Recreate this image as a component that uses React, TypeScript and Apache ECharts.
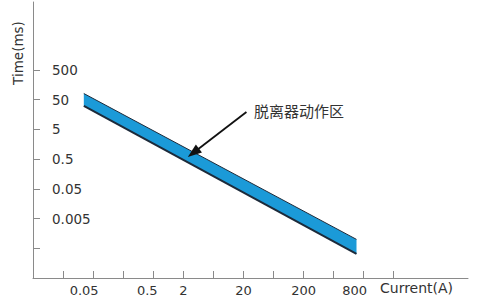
import React, { useEffect, useRef } from "react";
import * as echarts from "echarts";

// Axis positions are in "tick units" (one unit = spacing between ticks)
const xTicks = [1, 2, 3, 4, 5, 6, 7, 8, 9, 10, 11, 12];
const xLabelPos = [1.7, 3.8, 5, 7, 9, 10.7];
const xLabels = ["0.05", "0.5", "2", "20", "200", "800"];

const yTicks = [1, 2, 3, 4, 5, 6, 7];
const yLabelPos = [2, 3, 4, 5, 6, 7];
const yLabels = ["0.005", "0.05", "0.5", "5", "50", "500"];

// Tripping zone band (upper / lower boundary)
const bandX = [1.69, 10.76];
const bandUpper = [6.21, 1.3];
const bandLower = [5.79, 0.81];

// Annotation arrow: tail -> tip
const arrowTail = [7.1, 5.59];
const arrowTip = [5.15, 4.07];
const zoneLabel = "脱离器动作区";

const FONT = "DejaVu Sans";

export default function App() {
  const ref = useRef<HTMLDivElement>(null);

  useEffect(() => {
    if (!ref.current) return;
    const chart = echarts.init(ref.current, undefined, { renderer: "svg" });

    const bandData = bandX.map((x, i) => [x, bandUpper[i], bandLower[i]]);

    const option: any = {
      animation: false,
      backgroundColor: "#ffffff",
      grid: { left: 33, right: 9, top: 2, bottom: 28, containLabel: false },
      xAxis: {
        type: "value",
        min: 0,
        max: 14.47,
        splitLine: { show: false },
        axisLine: { show: true, lineStyle: { color: "#8a8a8a", width: 1 } },
        axisTick: {
          show: true,
          inside: true,
          length: 7,
          customValues: xTicks,
          lineStyle: { color: "#8a8a8a" },
        },
        axisLabel: {
          customValues: xLabelPos,
          margin: 6,
          color: "#333",
          fontFamily: FONT,
          fontSize: 13,
          formatter: (v: number) => {
            const i = xLabelPos.indexOf(v);
            return i >= 0 ? xLabels[i] : "";
          },
        },
      },
      yAxis: {
        type: "value",
        min: 0,
        max: 9.29,
        splitLine: { show: false },
        axisLine: { show: true, lineStyle: { color: "#8a8a8a", width: 1 } },
        axisTick: {
          show: true,
          inside: true,
          length: 7,
          customValues: yTicks,
          lineStyle: { color: "#8a8a8a" },
        },
        axisLabel: {
          inside: true,
          customValues: yLabelPos,
          margin: 19,
          color: "#333",
          fontFamily: FONT,
          fontSize: 13.5,
          formatter: (v: number) => {
            const i = yLabelPos.indexOf(v);
            return i >= 0 ? yLabels[i] : "";
          },
        },
      },
      series: [
        {
          type: "custom",
          name: "band",
          data: bandData,
          encode: { x: 0, y: [1, 2] },
          renderItem: (params: any, api: any) => {
            const i = params.dataIndex;
            if (i >= bandX.length - 1) return null;
            const t0 = api.coord([bandX[i], bandUpper[i]]);
            const t1 = api.coord([bandX[i + 1], bandUpper[i + 1]]);
            const b0 = api.coord([bandX[i], bandLower[i]]);
            const b1 = api.coord([bandX[i + 1], bandLower[i + 1]]);
            return {
              type: "group",
              children: [
                {
                  type: "polygon",
                  shape: { points: [t0, t1, b1, b0] },
                  style: { fill: "#1b9ad8" },
                },
                {
                  type: "polyline",
                  shape: { points: [t0, t1] },
                  style: { stroke: "#1c2a3a", lineWidth: 1, fill: null },
                },
                {
                  type: "polyline",
                  shape: { points: [b0, b1] },
                  style: { stroke: "#1c2a3a", lineWidth: 2, fill: null },
                },
              ],
            };
          },
        },
        {
          type: "custom",
          name: "arrow",
          data: [[arrowTail[0], arrowTail[1], arrowTip[0], arrowTip[1]]],
          encode: { x: [0, 2], y: [1, 3] },
          renderItem: (params: any, api: any) => {
            const a = api.coord([api.value(0), api.value(1)]);
            const b = api.coord([api.value(2), api.value(3)]);
            const dx = b[0] - a[0];
            const dy = b[1] - a[1];
            const len = Math.sqrt(dx * dx + dy * dy);
            const ux = dx / len;
            const uy = dy / len;
            const headLen = 14;
            const headHalf = 5;
            const base = [b[0] - ux * headLen, b[1] - uy * headLen];
            const nx = -uy;
            const ny = ux;
            return {
              type: "group",
              children: [
                {
                  type: "line",
                  shape: { x1: a[0], y1: a[1], x2: base[0] + ux * 2, y2: base[1] + uy * 2 },
                  style: { stroke: "#111", lineWidth: 1.8 },
                },
                {
                  type: "polygon",
                  shape: {
                    points: [
                      b,
                      [base[0] + nx * headHalf, base[1] + ny * headHalf],
                      [base[0] - nx * headHalf, base[1] - ny * headHalf],
                    ],
                  },
                  style: { fill: "#111" },
                },
              ],
            };
          },
        },
      ],
      graphic: [
        {
          type: "text",
          left: 254,
          top: 103,
          style: {
            text: zoneLabel,
            fontFamily: "Noto Sans CJK SC",
            fontSize: 15,
            fill: "#333",
          },
        },
        {
          type: "text",
          left: 380,
          top: 281,
          style: {
            text: "Current(A)",
            fontFamily: FONT,
            fontSize: 14,
            fill: "#333",
          },
        },
        {
          type: "text",
          x: 17.5,
          y: 53,
          rotation: Math.PI / 2,
          style: {
            text: "Time(ms)",
            fontFamily: FONT,
            fontSize: 13.5,
            fill: "#333",
            align: "center",
            verticalAlign: "middle",
          },
        },
      ],
    };

    chart.setOption(option);
    return () => chart.dispose();
  }, []);

  return (
    <div
      ref={ref}
      style={{ position: "fixed", left: 0, top: 0, width: 477, height: 306 }}
    />
  );
}
